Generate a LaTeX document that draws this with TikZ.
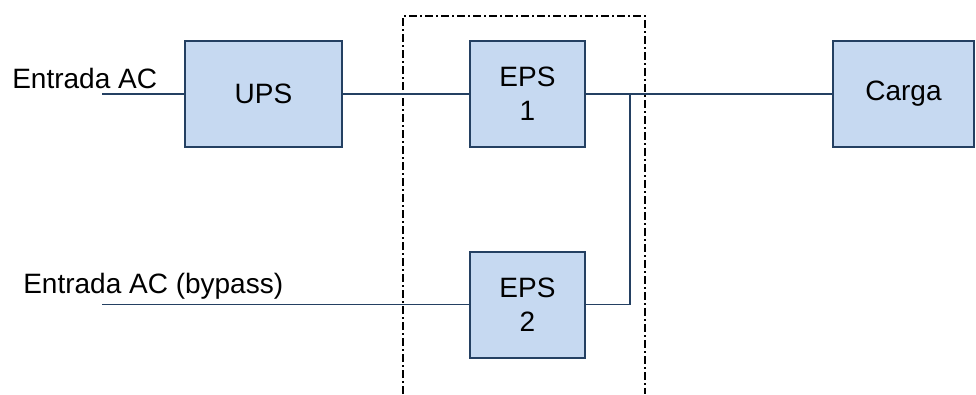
\documentclass[tikz,border=0pt]{standalone}
\usepackage{fontspec}
\setmainfont{Liberation Sans}
\usetikzlibrary{positioning}
\definecolor{epsfill}{RGB}{198,217,241}
\definecolor{epsline}{RGB}{36,64,98}
\tikzset{
    block/.style={rectangle, draw=epsline, fill=epsfill, line width=1.5pt, align=center, inner sep=0pt, minimum height=79.5pt, font=\fontsize{21}{25.5}\selectfont},
    wire/.style={draw=epsline, line width=1.1pt},
    inlabel/.style={inner sep=0pt, font=\fontsize{21}{25.5}\selectfont},
    frame/.style={draw=black, line width=1.1pt, dash pattern=on 6pt off 2.5pt on 1pt off 2.5pt}
}

\begin{document}
\begin{tikzpicture}[x=0.75pt, y=-0.75pt]
    \useasboundingbox (0,0) rectangle (976,394);

    % Redundancy zone
    \draw [frame] (403,394) -- (403,16) -- (645,16) -- (645,394);

    % Blocks
    \node [block, minimum width=117.75pt] (ups) at (263.5,94) {UPS};
    \node [block, minimum width=86.25pt] (eps1) at (527.5,94) {EPS\\1};
    \node [block, minimum width=86.25pt] (eps2) at (527.5,304.5) {EPS\\2};
    \node [block, minimum width=105.75pt] (carga) at (903.5,94) {Carga};

    % Inputs
    \coordinate (acin) at (102,94);
    \coordinate (bpin) at (102,304.5);
    \coordinate (tap) at (630,94);
    \node [inlabel, anchor=base west] (aclabel) at (12,88) {Entrada AC};
    \node [inlabel, anchor=base west] (bplabel) at (23,293) {Entrada AC (bypass)};

    % Connections
    \path [wire] (acin) -- (ups);
    \path [wire] (ups) -- (eps1);
    \path [wire] (eps1) -- (carga);
    \path [wire] (bpin) -- (eps2);
    \path [wire] (eps2) -- (eps2 -| tap) -- (tap);
\end{tikzpicture}
\end{document}
